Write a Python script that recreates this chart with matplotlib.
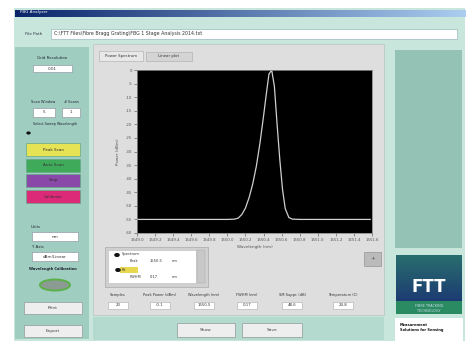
import numpy as np
import matplotlib
matplotlib.use("Agg")
import matplotlib.pyplot as plt
from matplotlib.patches import Rectangle, Ellipse, Circle

# ---------------- data ----------------
wavelength = [1549.0, 1549.2, 1549.4, 1549.6, 1549.8, 1550.0, 1550.08, 1550.12,
              1550.16, 1550.2, 1550.24, 1550.28, 1550.32, 1550.36, 1550.40,
              1550.43, 1550.46, 1550.49, 1550.52, 1550.55, 1550.58, 1550.61,
              1550.64, 1550.68, 1550.72, 1550.8, 1551.0, 1551.2, 1551.4, 1551.58]
power_dbm = [-55.0, -55.0, -55.0, -55.0, -55.0, -55.0, -54.9, -54.5,
             -53.2, -50.8, -47.0, -42.0, -35.5, -27.0, -17.0,
             -9.0, -1.5, 0.0, -6.0, -20.0, -33.0, -44.0,
             -51.0, -54.3, -54.9, -55.0, -55.0, -55.0, -55.0, -55.0]
x_ticks = [1549.0, 1549.2, 1549.4, 1549.6, 1549.8, 1550.0, 1550.2,
           1550.4, 1550.6, 1550.8, 1551.0, 1551.2, 1551.4, 1551.6]
y_ticks = [-60, -55, -50, -45, -40, -35, -30, -25, -20, -15, -10, -5, 0]
left_buttons = ["Peak Scan", "Auto Scan", "Stop", "Calibrate"]
left_button_colors = ["#e6e455", "#3faa5a", "#8a48a8", "#dc2a78"]
indicator_labels = ["Samples", "Peak Power (dBm)", "Wavelength (nm)", "FWHM (nm)",
                    "SM Suppr. (dB)", "Temperature (C)"]
indicator_values = ["23", "-0.1", "1550.5", "0.17", "48.6", "24.8"]

W, H = 469, 341
fig = plt.figure(figsize=(W / 100, H / 100), dpi=100)
fig.patch.set_facecolor("white")


def rect(x0, y0, x1, y1, fc, ec="none", lw=0.6, z=1):
    fig.patches.append(Rectangle((x0 / W, 1 - y1 / H), (x1 - x0) / W, (y1 - y0) / H,
                                 transform=fig.transFigure, fc=fc, ec=ec, lw=lw, zorder=z))


def txt(x, y, s, size=3.2, color="#333333", ha="center", weight="normal", rot=0, z=6):
    fig.text(x / W, 1 - y / H, s, fontsize=size, color=color, ha=ha, va="center",
             fontweight=weight, rotation=rot, zorder=z, family="DejaVu Sans")


def button(x0, y0, x1, y1, label, fc="#eeeeee", size=3.2, tc="#444444"):
    rect(x0, y0, x1, y1, fc, ec="#9aa5a2", lw=0.6, z=2)
    txt((x0 + x1) / 2, (y0 + y1) / 2, label, size=size, color=tc)


# window background
rect(14, 8, 465, 341, "#c9e6dd", z=0.5)
# title bar gradient
tax = fig.add_axes([15 / W, 1 - 17 / H, 450 / W, 7 / H], zorder=5)
grad = np.linspace(0, 1, 256)
c0 = np.array([10, 36, 106]) / 255
c1 = np.array([170, 205, 240]) / 255
img = c0[None, None, :] * (1 - grad)[None, :, None] + c1[None, None, :] * grad[None, :, None]
tax.imshow(img, aspect="auto", extent=[0, 1, 0, 1])
tax.axis("off")
txt(20, 12.5, "FBG Analyser", size=3.0, color="white", ha="left", z=7)

# path row
txt(34, 34, "File Path", size=3.0, color="#334", ha="center")
rect(51, 29, 457, 39, "white", ec="#9bb", lw=0.5, z=2)
txt(54, 34, "C:\\FTT Files\\Fibre Bragg Grating\\FBG 1 Stage Analysis 2014.txt", size=3.4,
    color="#333", ha="left")

# left panel
rect(15, 47, 89, 339, "#9fcdbf", z=1)
txt(52, 58, "Grid Resolution", size=2.8, color="#223")
rect(33, 65, 72, 72, "white", ec="#889", lw=0.4, z=2)
txt(52, 68.5, "0.01", size=3.0)
txt(43, 102, "Scan Window", size=2.6, color="#223")
txt(71, 102, "# Scans", size=2.6, color="#223")
rect(33, 108, 55, 117, "white", ec="#889", lw=0.4, z=2)
rect(62, 108, 80, 117, "white", ec="#889", lw=0.4, z=2)
txt(44, 112.5, "5", size=3.0)
txt(71, 112.5, "1", size=3.0)
txt(55, 124, "Select Sweep Wavelength", size=2.4, color="#223")
fig.patches.append(Circle((28.5 / W, 1 - 133 / H), 2.2 / W, transform=fig.transFigure,
                          fc="#111", ec="none", zorder=3))
ys = [143, 159, 174, 190]
for lab, col, y0 in zip(left_buttons, left_button_colors, ys):
    rect(26, y0, 80, y0 + 13, col, ec="#6a8", lw=0.5, z=2)
    txt(53, y0 + 6.5, lab, size=3.0, color="#333")
txt(36, 227, "Units", size=2.8, color="#223")
rect(32, 232, 78, 241, "white", ec="#889", lw=0.4, z=2)
txt(55, 236.5, "nm", size=3.0)
txt(38, 247, "Y Axis", size=2.8, color="#223")
rect(32, 252, 78, 261, "white", ec="#889", lw=0.4, z=2)
txt(55, 256.5, "dBm/Linear", size=3.0)
txt(53, 269, "Wavelength Calibration", size=2.6, color="#223", weight="bold")
fig.patches.append(Ellipse((55 / W, 1 - 285 / H), 30 / W, 11 / H, transform=fig.transFigure,
                           fc="#8c9a94", ec="#5cb048", lw=1.4, zorder=3))
button(24, 302, 82, 314, "Print")
button(24, 325, 82, 337, "Export")

# center panel
rect(93, 44, 384, 315, "#dedede", ec="#b8c4c0", lw=0.5, z=1)
rect(99, 51, 143, 61, "#e8e8e8", ec="#aaa", lw=0.4, z=2)
txt(121, 56, "Power Spectrum", size=2.8)
rect(146, 52, 192, 61, "#d4d4d4", ec="#aaa", lw=0.4, z=2)
txt(169, 56.5, "Linear plot", size=2.8)

# plot
ax = fig.add_axes([137 / W, 1 - 233 / H, 235 / W, 163 / H], zorder=10)
ax.set_facecolor("black")
ax.plot(wavelength, power_dbm, color="#cfcfcf", lw=0.9)
ax.set_xlim(x_ticks[0], x_ticks[-1])
ax.set_ylim(y_ticks[0], y_ticks[-1])
ax.set_xticks(x_ticks)
ax.set_yticks(y_ticks)
ax.set_xticklabels([f"{v:.1f}" for v in x_ticks], fontsize=2.8, color="#555")
ax.set_yticklabels([str(v) for v in y_ticks], fontsize=2.8, color="#555")
ax.tick_params(length=2, width=0.5, color="#666", pad=1.5)
for s in ax.spines.values():
    s.set_color("#888")
    s.set_linewidth(0.6)
ax.set_xlabel("Wavelength (nm)", fontsize=3.0, color="#555", labelpad=2)
ax.set_ylabel("Power (dBm)", fontsize=3.0, color="#555", labelpad=4)

# legend box
rect(105, 247, 208, 287, "#d0d0d0", ec="#aaa", lw=0.5, z=2)
rect(108, 250, 196, 283, "white", ec="#bbb", lw=0.4, z=3)
rect(197, 250, 205, 283, "#c8c8c8", ec="#aaa", lw=0.3, z=3)
fig.patches.append(Circle((117 / W, 1 - 255 / H), 2.8 / W, transform=fig.transFigure,
                          fc="#111", ec="none", zorder=4))
txt(122, 254, "Spectrum", size=2.6, ha="left", z=7)
txt(130, 261, "Peak", size=2.6, ha="left", z=7)
txt(150, 261, "1550.5", size=2.6, ha="left", z=7)
txt(172, 261, "nm", size=2.6, ha="left", z=7)
rect(120, 267, 138, 273, "#e8d850", z=4)
fig.patches.append(Circle((118 / W, 1 - 270 / H), 2.8 / W, transform=fig.transFigure,
                          fc="#111", ec="none", zorder=5))
txt(122, 270, "Fit", size=2.6, ha="left", z=7)
txt(130, 277, "FWHM", size=2.6, ha="left", z=7)
txt(150, 277, "0.17", size=2.6, ha="left", z=7)
txt(172, 277, "nm", size=2.6, ha="left", z=7)
# graph palette
rect(364, 252, 381, 266, "#bbbbbb", ec="#888", lw=0.4, z=2)
txt(372.5, 259, "+", size=4, color="#555")

# bottom indicators
label_x = [118, 160, 204, 247, 292, 343]
for lx, lab, val in zip(label_x, indicator_labels, indicator_values):
    txt(lx, 295, lab, size=2.6, color="#333")
    rect(lx - 10, 302, lx + 10, 309, "white", ec="#aaa", lw=0.4, z=2)
    txt(lx, 305.5, val, size=2.8)

# bottom button bar
rect(93, 317, 384, 340, "#b4d9ce", z=1)
button(177, 323, 235, 337, "Show")
button(242, 323, 302, 337, "Save")

# right panel
rect(395, 50, 462, 248, "#94c2b5", z=1)
lax = fig.add_axes([396 / W, 1 - 314 / H, 66 / W, 59 / H], zorder=5)
lgrad = np.linspace(0, 1, 128)
top = np.array([40, 110, 110]) / 255
bot = np.array([25, 45, 115]) / 255
limg = top[None, None, :] * (1 - lgrad)[:, None, None] + bot[None, None, :] * lgrad[:, None, None]
limg = np.repeat(limg, 4, axis=1)
lax.imshow(limg, aspect="auto", extent=[0, 1, 0, 1])
lax.add_patch(Rectangle((0, 0), 1, 0.22, fc="#2a8a62", ec="none"))
lax.text(0.5, 0.45, "FTT", fontsize=12, fontweight="bold", color="white",
         ha="center", va="center")
lax.text(0.5, 0.14, "FIBRE TRACKING", fontsize=2.4, color="#cde", ha="center", va="center")
lax.text(0.5, 0.05, "TECHNOLOGY", fontsize=2.4, color="#cde", ha="center", va="center")
lax.set_xlim(0, 1)
lax.set_ylim(0, 1)
lax.axis("off")
rect(395, 318, 463, 341, "white", z=1)
txt(400, 325, "Measurement", size=2.6, color="#111", ha="left", weight="bold")
txt(400, 330, "Solutions for Sensing", size=2.6, color="#111", ha="left", weight="bold")

fig.savefig("out.png", dpi=100, facecolor=fig.get_facecolor())
